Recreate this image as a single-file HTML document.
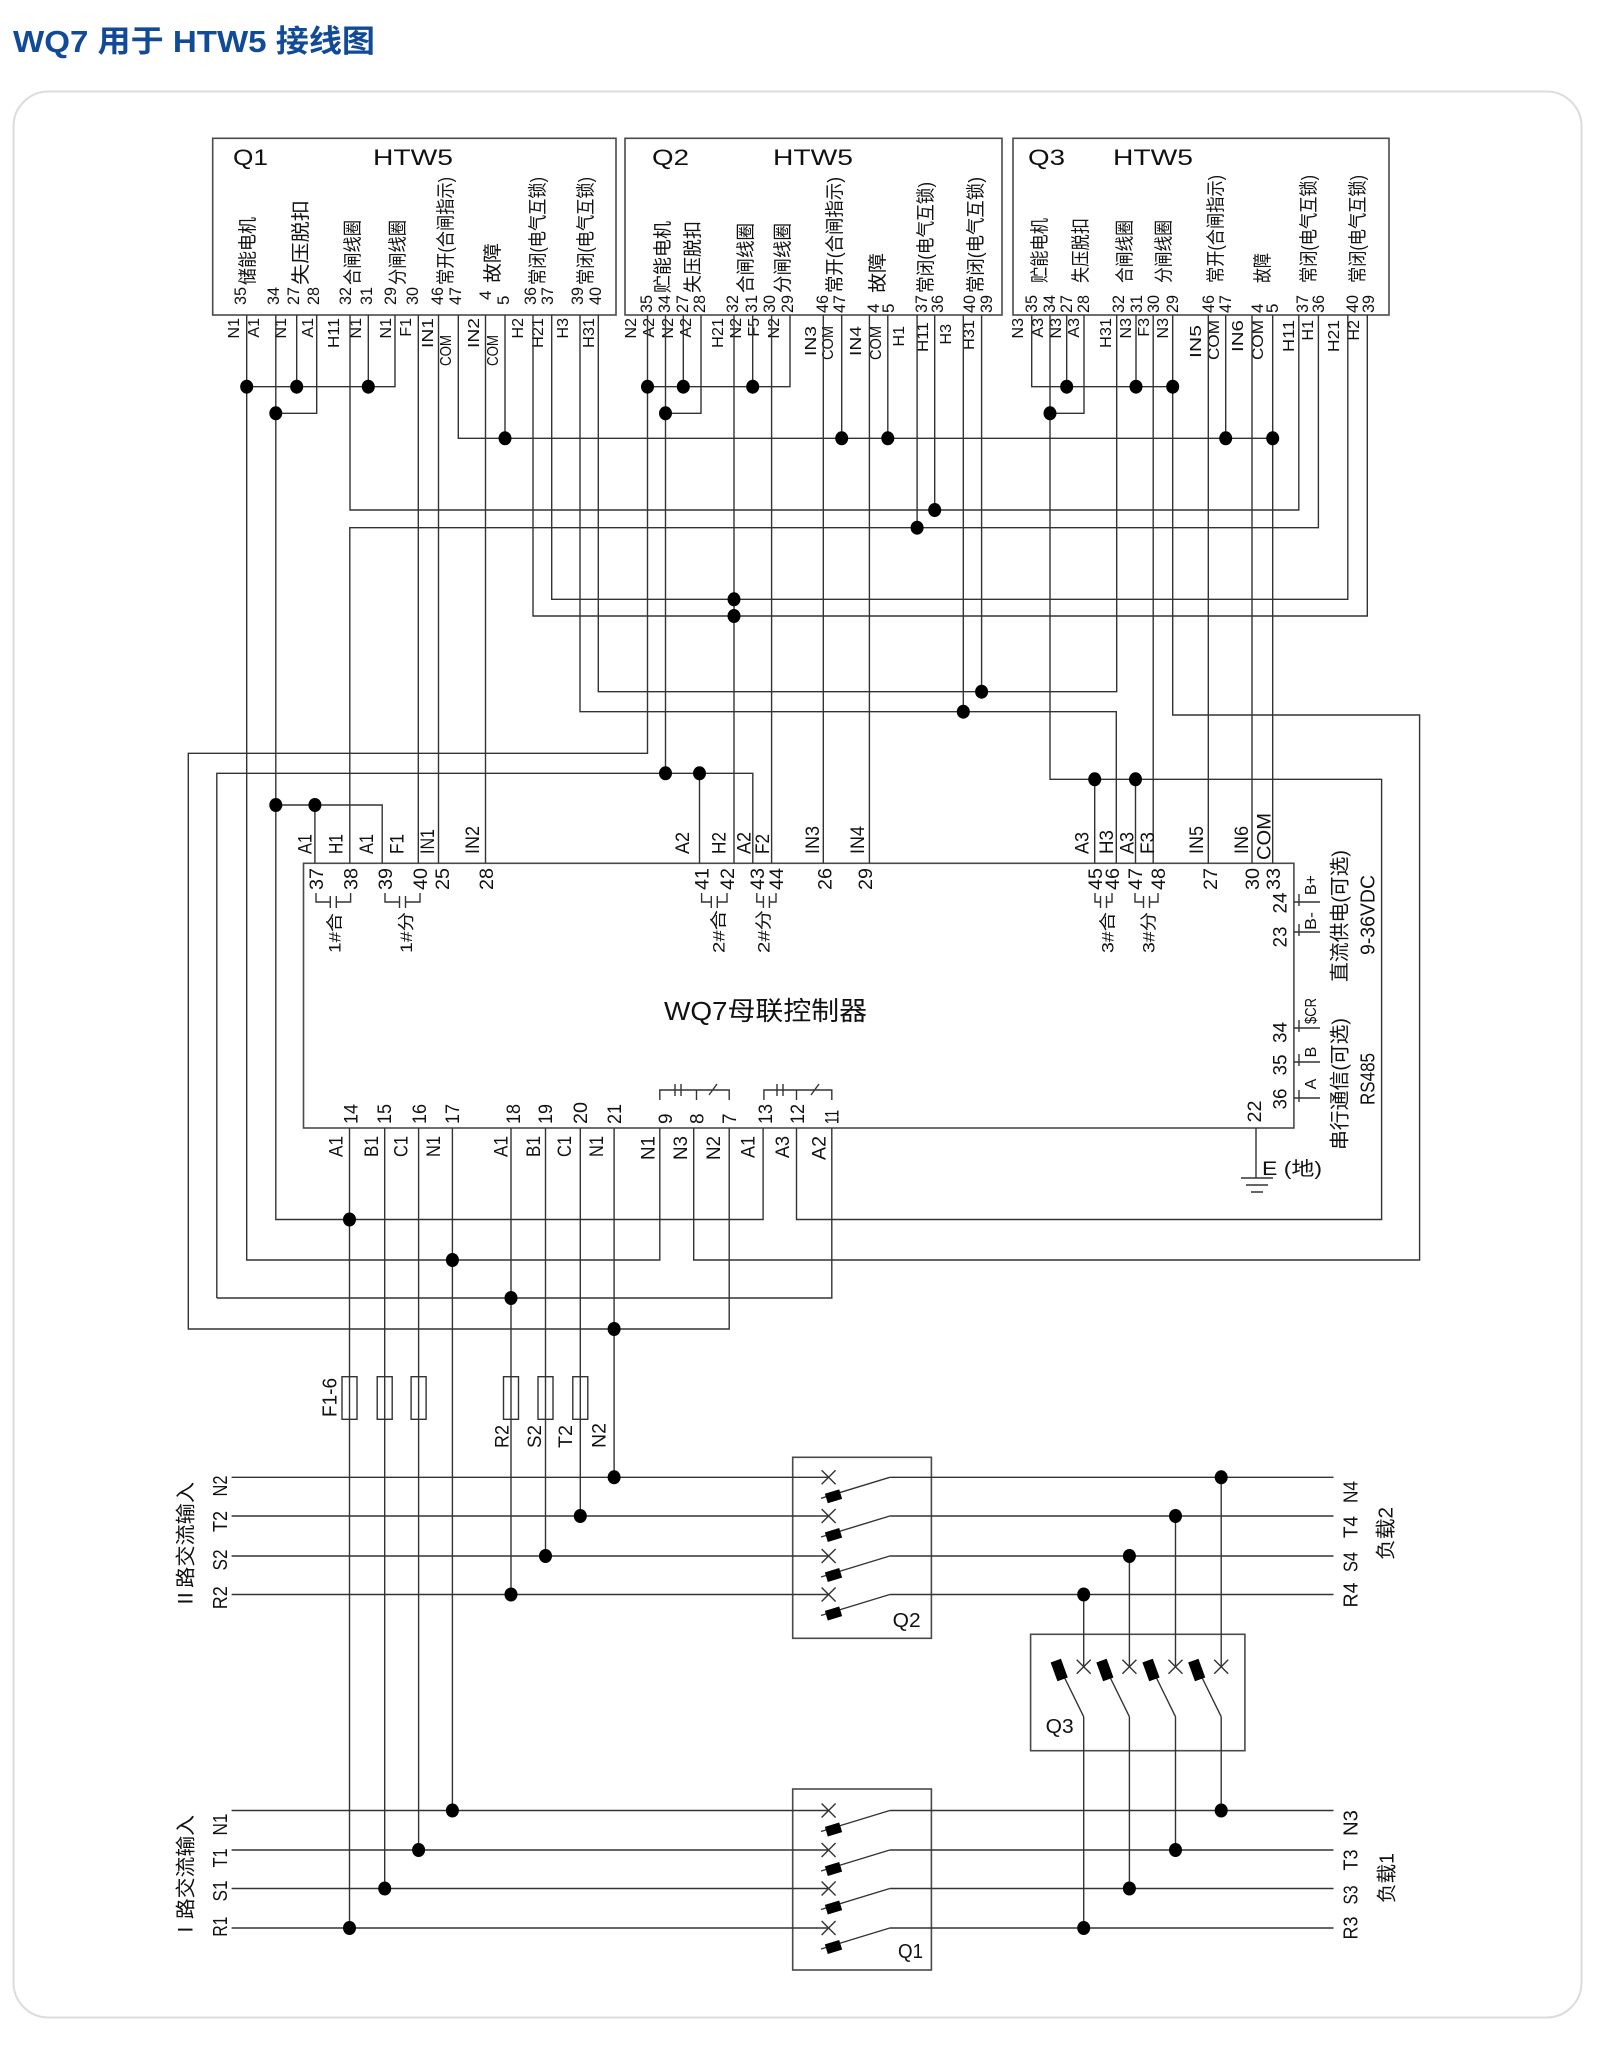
<!DOCTYPE html>
<html><head><meta charset="utf-8"><title>WQ7 用于 HTW5 接线图</title>
<style>
html,body{margin:0;padding:0;background:#fff;}
svg{display:block;}
text{font-family:"Liberation Sans","Noto Sans CJK SC",sans-serif;fill:#111;}
.ln{stroke:#333;stroke-width:1.4;fill:none;}
.bx{stroke:#4a4a4a;stroke-width:1.6;fill:none;}
.dt{fill:#000;}
</style></head><body>
<svg width="1600" height="2060" viewBox="0 0 1600 2060" xmlns="http://www.w3.org/2000/svg">
<rect x="0" y="0" width="1600" height="2060" fill="#fff"/>
<!-- title -->
<text x="13" y="52" font-size="31" font-weight="bold" style="fill:#114a97" textLength="362" lengthAdjust="spacingAndGlyphs">WQ7 用于 HTW5 接线图</text>
<!-- panel -->
<rect x="13.5" y="91.5" width="1568" height="1926" rx="35" ry="35" fill="#fff" stroke="#dcdcdc" stroke-width="2"/>

<!-- boxes -->
<rect class="bx" x="212.7" y="138.3" width="403.3" height="176.7"/>
<rect class="bx" x="625" y="138.3" width="377" height="176.7"/>
<rect class="bx" x="1013" y="138.3" width="376" height="176.7"/>
<rect class="bx" x="303.5" y="863.3" width="990.4" height="264.7"/>
<rect class="bx" x="792.7" y="1457.3" width="138.7" height="181"/>
<rect class="bx" x="1030.6" y="1634.3" width="214.3" height="116.4"/>
<rect class="bx" x="792.7" y="1789" width="138.7" height="181"/>

<!-- box headers -->
<g font-size="22">
<text x="233" y="165" textLength="35" lengthAdjust="spacingAndGlyphs">Q1</text>
<text x="373" y="165" textLength="80" lengthAdjust="spacingAndGlyphs">HTW5</text>
<text x="652" y="165" textLength="37" lengthAdjust="spacingAndGlyphs">Q2</text>
<text x="773" y="165" textLength="80" lengthAdjust="spacingAndGlyphs">HTW5</text>
<text x="1028" y="165" textLength="37" lengthAdjust="spacingAndGlyphs">Q3</text>
<text x="1113" y="165" textLength="80" lengthAdjust="spacingAndGlyphs">HTW5</text>
</g>

<!-- Q1 column texts -->
<g font-size="17">
<text transform="translate(246,305) rotate(-90)" textLength="18" lengthAdjust="spacingAndGlyphs">35</text>
<text transform="translate(279,305) rotate(-90)" textLength="18" lengthAdjust="spacingAndGlyphs">34</text>
<text transform="translate(299,305) rotate(-90)" textLength="18" lengthAdjust="spacingAndGlyphs">27</text>
<text transform="translate(319,305) rotate(-90)" textLength="18" lengthAdjust="spacingAndGlyphs">28</text>
<text transform="translate(351,305) rotate(-90)" textLength="18" lengthAdjust="spacingAndGlyphs">32</text>
<text transform="translate(372,305) rotate(-90)" textLength="18" lengthAdjust="spacingAndGlyphs">31</text>
<text transform="translate(396,305) rotate(-90)" textLength="18" lengthAdjust="spacingAndGlyphs">29</text>
<text transform="translate(418,305) rotate(-90)" textLength="18" lengthAdjust="spacingAndGlyphs">30</text>
<text transform="translate(443,305) rotate(-90)" textLength="18" lengthAdjust="spacingAndGlyphs">46</text>
<text transform="translate(461,305) rotate(-90)" textLength="18" lengthAdjust="spacingAndGlyphs">47</text>
<text transform="translate(491,300) rotate(-90)">4</text>
<text transform="translate(509,305) rotate(-90)">5</text>
<text transform="translate(536,305) rotate(-90)" textLength="18" lengthAdjust="spacingAndGlyphs">36</text>
<text transform="translate(553,305) rotate(-90)" textLength="18" lengthAdjust="spacingAndGlyphs">37</text>
<text transform="translate(583,305) rotate(-90)" textLength="18" lengthAdjust="spacingAndGlyphs">39</text>
<text transform="translate(601,305) rotate(-90)" textLength="18" lengthAdjust="spacingAndGlyphs">40</text>
</g>
<g font-size="19">
<text transform="translate(254,285) rotate(-90)" textLength="68" lengthAdjust="spacingAndGlyphs">储能电机</text>
<text transform="translate(307,285) rotate(-90)" textLength="85" lengthAdjust="spacingAndGlyphs">失压脱扣</text>
<text transform="translate(359,285) rotate(-90)" textLength="65" lengthAdjust="spacingAndGlyphs">合闸线圈</text>
<text transform="translate(404,285) rotate(-90)" textLength="65" lengthAdjust="spacingAndGlyphs">分闸线圈</text>
<text transform="translate(452,285) rotate(-90)" textLength="108" lengthAdjust="spacingAndGlyphs">常开(合闸指示)</text>
<text transform="translate(499,283) rotate(-90)" textLength="40" lengthAdjust="spacingAndGlyphs">故障</text>
<text transform="translate(544,285) rotate(-90)" textLength="108" lengthAdjust="spacingAndGlyphs">常闭(电气互锁)</text>
<text transform="translate(592,285) rotate(-90)" textLength="108" lengthAdjust="spacingAndGlyphs">常闭(电气互锁)</text>
</g>

<!-- Q2 column texts -->
<g font-size="17">
<text transform="translate(652,313) rotate(-90)" textLength="18" lengthAdjust="spacingAndGlyphs">35</text>
<text transform="translate(670,313) rotate(-90)" textLength="18" lengthAdjust="spacingAndGlyphs">34</text>
<text transform="translate(688,313) rotate(-90)" textLength="18" lengthAdjust="spacingAndGlyphs">27</text>
<text transform="translate(705,313) rotate(-90)" textLength="18" lengthAdjust="spacingAndGlyphs">28</text>
<text transform="translate(738,313) rotate(-90)" textLength="18" lengthAdjust="spacingAndGlyphs">32</text>
<text transform="translate(757,313) rotate(-90)" textLength="18" lengthAdjust="spacingAndGlyphs">31</text>
<text transform="translate(775,313) rotate(-90)" textLength="18" lengthAdjust="spacingAndGlyphs">30</text>
<text transform="translate(793,313) rotate(-90)" textLength="18" lengthAdjust="spacingAndGlyphs">29</text>
<text transform="translate(828,313) rotate(-90)" textLength="18" lengthAdjust="spacingAndGlyphs">46</text>
<text transform="translate(845,313) rotate(-90)" textLength="18" lengthAdjust="spacingAndGlyphs">47</text>
<text transform="translate(879,313) rotate(-90)">4</text>
<text transform="translate(894,313) rotate(-90)">5</text>
<text transform="translate(927,313) rotate(-90)" textLength="18" lengthAdjust="spacingAndGlyphs">37</text>
<text transform="translate(943,313) rotate(-90)" textLength="18" lengthAdjust="spacingAndGlyphs">36</text>
<text transform="translate(975,313) rotate(-90)" textLength="18" lengthAdjust="spacingAndGlyphs">40</text>
<text transform="translate(992,313) rotate(-90)" textLength="18" lengthAdjust="spacingAndGlyphs">39</text>
</g>
<g font-size="19">
<text transform="translate(669,293) rotate(-90)" textLength="72" lengthAdjust="spacingAndGlyphs">贮能电机</text>
<text transform="translate(699,293) rotate(-90)" textLength="72" lengthAdjust="spacingAndGlyphs">失压脱扣</text>
<text transform="translate(752,293) rotate(-90)" textLength="70" lengthAdjust="spacingAndGlyphs">合闸线圈</text>
<text transform="translate(789,293) rotate(-90)" textLength="70" lengthAdjust="spacingAndGlyphs">分闸线圈</text>
<text transform="translate(841,293) rotate(-90)" textLength="116" lengthAdjust="spacingAndGlyphs">常开(合闸指示)</text>
<text transform="translate(884,293) rotate(-90)" textLength="40" lengthAdjust="spacingAndGlyphs">故障</text>
<text transform="translate(932,293) rotate(-90)" textLength="111" lengthAdjust="spacingAndGlyphs">常闭(电气互锁)</text>
<text transform="translate(982,293) rotate(-90)" textLength="116" lengthAdjust="spacingAndGlyphs">常闭(电气互锁)</text>
</g>

<!-- Q3 column texts -->
<g font-size="17">
<text transform="translate(1037,313) rotate(-90)" textLength="18" lengthAdjust="spacingAndGlyphs">35</text>
<text transform="translate(1055,313) rotate(-90)" textLength="18" lengthAdjust="spacingAndGlyphs">34</text>
<text transform="translate(1072,313) rotate(-90)" textLength="18" lengthAdjust="spacingAndGlyphs">27</text>
<text transform="translate(1089,313) rotate(-90)" textLength="18" lengthAdjust="spacingAndGlyphs">28</text>
<text transform="translate(1124,313) rotate(-90)" textLength="18" lengthAdjust="spacingAndGlyphs">32</text>
<text transform="translate(1142,313) rotate(-90)" textLength="18" lengthAdjust="spacingAndGlyphs">31</text>
<text transform="translate(1159,313) rotate(-90)" textLength="18" lengthAdjust="spacingAndGlyphs">30</text>
<text transform="translate(1178,313) rotate(-90)" textLength="18" lengthAdjust="spacingAndGlyphs">29</text>
<text transform="translate(1214,313) rotate(-90)" textLength="18" lengthAdjust="spacingAndGlyphs">46</text>
<text transform="translate(1231,313) rotate(-90)" textLength="18" lengthAdjust="spacingAndGlyphs">47</text>
<text transform="translate(1263,313) rotate(-90)">4</text>
<text transform="translate(1278,313) rotate(-90)">5</text>
<text transform="translate(1308,313) rotate(-90)" textLength="18" lengthAdjust="spacingAndGlyphs">37</text>
<text transform="translate(1324,313) rotate(-90)" textLength="18" lengthAdjust="spacingAndGlyphs">36</text>
<text transform="translate(1358,313) rotate(-90)" textLength="18" lengthAdjust="spacingAndGlyphs">40</text>
<text transform="translate(1374,313) rotate(-90)" textLength="18" lengthAdjust="spacingAndGlyphs">39</text>
</g>
<g font-size="19">
<text transform="translate(1046,283) rotate(-90)" textLength="65" lengthAdjust="spacingAndGlyphs">贮能电机</text>
<text transform="translate(1087,283) rotate(-90)" textLength="65" lengthAdjust="spacingAndGlyphs">失压脱扣</text>
<text transform="translate(1131,283) rotate(-90)" textLength="63" lengthAdjust="spacingAndGlyphs">合闸线圈</text>
<text transform="translate(1170,283) rotate(-90)" textLength="63" lengthAdjust="spacingAndGlyphs">分闸线圈</text>
<text transform="translate(1222,283) rotate(-90)" textLength="108" lengthAdjust="spacingAndGlyphs">常开(合闸指示)</text>
<text transform="translate(1269,283) rotate(-90)" textLength="30" lengthAdjust="spacingAndGlyphs">故障</text>
<text transform="translate(1315,283) rotate(-90)" textLength="108" lengthAdjust="spacingAndGlyphs">常闭(电气互锁)</text>
<text transform="translate(1364,283) rotate(-90)" textLength="108" lengthAdjust="spacingAndGlyphs">常闭(电气互锁)</text>
</g>

<!-- wire labels below Q boxes -->
<g font-size="16" text-anchor="end">
<text transform="translate(239,318) rotate(-90)">N1</text>
<text transform="translate(259,318) rotate(-90)">A1</text>
<text transform="translate(286,318) rotate(-90)">N1</text>
<text transform="translate(313,318) rotate(-90)">A1</text>
<text transform="translate(339,318) rotate(-90)" textLength="30" lengthAdjust="spacingAndGlyphs">H11</text>
<text transform="translate(361,318) rotate(-90)">N1</text>
<text transform="translate(391,318) rotate(-90)">N1</text>
<text transform="translate(411,318) rotate(-90)">F1</text>
<text transform="translate(433,318) rotate(-90)" textLength="30" lengthAdjust="spacingAndGlyphs">IN1</text>
<text transform="translate(451,335) rotate(-90)" textLength="31" lengthAdjust="spacingAndGlyphs">COM</text>
<text transform="translate(479,318) rotate(-90)" textLength="30" lengthAdjust="spacingAndGlyphs">IN2</text>
<text transform="translate(498,335) rotate(-90)" textLength="31" lengthAdjust="spacingAndGlyphs">COM</text>
<text transform="translate(523,318) rotate(-90)">H2</text>
<text transform="translate(543,318) rotate(-90)" textLength="30" lengthAdjust="spacingAndGlyphs">H21</text>
<text transform="translate(568,318) rotate(-90)">H3</text>
<text transform="translate(594,318) rotate(-90)" textLength="30" lengthAdjust="spacingAndGlyphs">H31</text>

<text transform="translate(636,318) rotate(-90)">N2</text>
<text transform="translate(654,318) rotate(-90)">A2</text>
<text transform="translate(673,318) rotate(-90)">N2</text>
<text transform="translate(691,318) rotate(-90)">A2</text>
<text transform="translate(723,318) rotate(-90)" textLength="30" lengthAdjust="spacingAndGlyphs">H21</text>
<text transform="translate(741,318) rotate(-90)">N2</text>
<text transform="translate(759,318) rotate(-90)">F5</text>
<text transform="translate(779,318) rotate(-90)">N2</text>
<text transform="translate(816,326) rotate(-90)" textLength="30" lengthAdjust="spacingAndGlyphs">IN3</text>
<text transform="translate(833,326) rotate(-90)" textLength="34" lengthAdjust="spacingAndGlyphs">COM</text>
<text transform="translate(861,326) rotate(-90)" textLength="30" lengthAdjust="spacingAndGlyphs">IN4</text>
<text transform="translate(881,326) rotate(-90)" textLength="34" lengthAdjust="spacingAndGlyphs">COM</text>
<text transform="translate(904,326) rotate(-90)">H1</text>
<text transform="translate(928,322) rotate(-90)" textLength="30" lengthAdjust="spacingAndGlyphs">H11</text>
<text transform="translate(951,324) rotate(-90)">H3</text>
<text transform="translate(974,320) rotate(-90)" textLength="30" lengthAdjust="spacingAndGlyphs">H31</text>

<text transform="translate(1023,318) rotate(-90)">N3</text>
<text transform="translate(1043,318) rotate(-90)">A3</text>
<text transform="translate(1061,318) rotate(-90)">N3</text>
<text transform="translate(1079,318) rotate(-90)">A3</text>
<text transform="translate(1111,318) rotate(-90)" textLength="30" lengthAdjust="spacingAndGlyphs">H31</text>
<text transform="translate(1131,318) rotate(-90)">N3</text>
<text transform="translate(1149,318) rotate(-90)">F3</text>
<text transform="translate(1168,318) rotate(-90)">N3</text>
<text transform="translate(1201,325) rotate(-90)" textLength="33" lengthAdjust="spacingAndGlyphs">IN5</text>
<text transform="translate(1219,320) rotate(-90)" textLength="40" lengthAdjust="spacingAndGlyphs">COM</text>
<text transform="translate(1243,320) rotate(-90)" textLength="32" lengthAdjust="spacingAndGlyphs">IN6</text>
<text transform="translate(1263,320) rotate(-90)" textLength="40" lengthAdjust="spacingAndGlyphs">COM</text>
<text transform="translate(1294,320) rotate(-90)" textLength="32" lengthAdjust="spacingAndGlyphs">H11</text>
<text transform="translate(1313,320) rotate(-90)">H1</text>
<text transform="translate(1339,320) rotate(-90)" textLength="32" lengthAdjust="spacingAndGlyphs">H21</text>
<text transform="translate(1359,320) rotate(-90)">H2</text>
</g>

<!-- wiring -->
<g class="ln">
<!-- Q1 -->
<path d="M246.7 315 V1260 H659.8 V1128"/>
<path d="M275.8 315 V1219.5 H763.1 V1128"/>
<path d="M296.7 315 V386.7"/>
<path d="M316.7 315 V413.3 H275.8"/>
<path d="M350 315 V510 H1298.8 V315"/>
<path d="M368.3 315 V386.7"/>
<path d="M395 315 V386.7 H246.7"/>
<path d="M418.3 315 V863.3"/>
<path d="M438.5 315 V863.3"/>
<path d="M458.3 315 V438.3 H1272.7"/>
<path d="M485.5 315 V863.3"/>
<path d="M505 315 V438.3"/>
<path d="M533 315 V616 H1367.3 V315"/>
<path d="M551.7 315 V599.3 H1347.8 V315"/>
<path d="M580 315 V711.7 H1116.3 V863.3"/>
<path d="M598.3 315 V691.7 H1116.7 V315"/>
<!-- Q2 -->
<path d="M647.5 315 V753.3 H188.3 V1329 H729.2 V1128"/>
<path d="M665.5 315 V773.3"/>
<path d="M683.3 315 V386.7"/>
<path d="M701 315 V413.3 H665.5"/>
<path d="M734 315 V863.3"/>
<path d="M752.7 315 V386.7"/>
<path d="M771.6 315 V863.3"/>
<path d="M790 315 V386.7 H647.5"/>
<path d="M823.3 315 V863.3"/>
<path d="M841.7 315 V438.3"/>
<path d="M869.4 315 V863.3"/>
<path d="M887.8 315 V438.3"/>
<path d="M917.1 315 V527.7"/>
<path d="M934.7 315 V510"/>
<path d="M963.3 315 V711.7"/>
<path d="M981.6 315 V691.7"/>
<!-- Q3 -->
<path d="M1031.7 315 V386.7 H1172.7"/>
<path d="M1050 315 V779.3 H1381.6 V1219.5 H796.5 V1128"/>
<path d="M1066.7 315 V386.7"/>
<path d="M1084 315 V413.3 H1050"/>
<path d="M1136 315 V386.7"/>
<path d="M1153.2 315 V863.3"/>
<path d="M1172.7 315 V715 H1419.6 V1260 H693.7 V1128"/>
<path d="M1208.3 315 V863.3"/>
<path d="M1225.7 315 V438.3"/>
<path d="M1252 315 V863.3"/>
<path d="M1272.7 315 V863.3"/>
<path d="M1318.4 315 V527.7 H349.8 V863.3"/>
<!-- other middle -->
<path d="M216.8 1298 V773.3 H752.8 V863.3"/>
<path d="M216.8 1298 H831.8 V1128"/>
<path d="M699.5 773.3 V863.3"/>
<path d="M1094.7 779.3 V863.3"/>
<path d="M1135.5 779.3 V863.3"/>
<path d="M275.8 805 H382.2 V863.3"/>
<path d="M314.9 805 V863.3"/>
<!-- bottom verticals -->
<path d="M349.5 1128 V1928"/>
<path d="M384.7 1128 V1888.5"/>
<path d="M418.6 1128 V1850"/>
<path d="M452.4 1128 V1810.5"/>
<path d="M511 1128 V1594.5"/>
<path d="M545.5 1128 V1556"/>
<path d="M580.3 1128 V1516"/>
<path d="M614.1 1128 V1477.3"/>
<!-- input lines II -->
<path d="M231.6 1477.3 H828.6 M889.8 1477.3 H1333.5"/>
<path d="M231.6 1516 H828.6 M889.8 1516 H1333.5"/>
<path d="M231.6 1556 H828.6 M889.8 1556 H1333.5"/>
<path d="M231.6 1594.5 H828.6 M889.8 1594.5 H1333.5"/>
<!-- input lines I -->
<path d="M231.6 1810.5 H828.6 M889.8 1810.5 H1333.5"/>
<path d="M231.6 1850 H828.6 M889.8 1850 H1333.5"/>
<path d="M231.6 1888.5 H828.6 M889.8 1888.5 H1333.5"/>
<path d="M231.6 1928 H828.6 M889.8 1928 H1333.5"/>
<!-- Q3 verticals -->
<path d="M1083.7 1594.5 V1666.7 M1083.7 1716.7 V1928 M1064.7 1678 L1083.7 1716.7"/>
<path d="M1129.4 1556 V1666.7 M1129.4 1716.7 V1888.5 M1110.4 1678 L1129.4 1716.7"/>
<path d="M1175.5 1516 V1666.7 M1175.5 1716.7 V1850 M1156.5 1678 L1175.5 1716.7"/>
<path d="M1221.2 1477.3 V1666.7 M1221.2 1716.7 V1810.5 M1202.2 1678 L1221.2 1716.7"/>
<!-- Q3 X marks -->
<path d="M1076.7 1659.7 L1090.7 1673.7 M1076.7 1673.7 L1090.7 1659.7"/>
<path d="M1122.4 1659.7 L1136.4 1673.7 M1122.4 1673.7 L1136.4 1659.7"/>
<path d="M1168.5 1659.7 L1182.5 1673.7 M1168.5 1673.7 L1182.5 1659.7"/>
<path d="M1214.2 1659.7 L1228.2 1673.7 M1214.2 1673.7 L1228.2 1659.7"/>
<!-- ground -->
<path d="M1256 1128 V1178 M1241 1178 H1273 M1246 1185 H1268 M1251 1192 H1263"/>
<!-- right side small terminal lines -->
<path d="M1294 902 H1320 M1299 894 V906"/>
<path d="M1294 932 H1320 M1299 924 V936"/>
<path d="M1294 1028 H1320 M1299 1020 V1032"/>
<path d="M1294 1062 H1320 M1299 1054 V1066"/>
<path d="M1294 1098 H1320 M1299 1090 V1102"/>
<!-- top contact symbols -->
<path d="M316 893 V902 H330.3 M336.3 902 H350.6 V893 M330.3 896 V908 M336.3 896 V908"/>
<path d="M385 893 V902 H399.5 M405.5 902 H420 V893 M399.5 896 V908 M405.5 896 V908"/>
<path d="M701.6 893 V902 H711.3 M717.3 902 H727 V893 M711.3 896 V908 M717.3 896 V908"/>
<path d="M756.8 893 V902 H763.4 M769.4 902 H776 V893 M763.4 896 V908 M769.4 896 V908"/>
<path d="M1095 893 V902 H1100.5 M1106.5 902 H1112 V893 M1100.5 896 V908 M1106.5 896 V908"/>
<path d="M1135 893 V902 H1143.5 M1149.5 902 H1158 V893 M1143.5 896 V908 M1149.5 896 V908"/>
<!-- bottom contact brackets -->
<path d="M659.8 1100 V1090 H729.2 V1100 M696.5 1090 V1100 M675 1084 V1096 M681 1084 V1096 M709 1095 L717 1084"/>
<path d="M763.9 1100 V1090 H831.8 V1100 M796.5 1090 V1100 M777 1084 V1096 M783 1084 V1096 M811 1095 L819 1084"/>
</g>

<!-- fuses -->
<g class="ln">
<rect x="342" y="1376.7" width="15" height="42.6"/>
<rect x="377.2" y="1376.7" width="15" height="42.6"/>
<rect x="411.1" y="1376.7" width="15" height="42.6"/>
<rect x="503.5" y="1376.7" width="15" height="42.6"/>
<rect x="538" y="1376.7" width="15" height="42.6"/>
<rect x="572.8" y="1376.7" width="15" height="42.6"/>
</g>

<!-- Q1/Q2 switch contacts -->
<g class="ln">
<path d="M821.6 1470.3 L835.6 1484.3 M821.6 1484.3 L835.6 1470.3 M821 1498.3 L889.8 1477.3"/>
<path d="M821.6 1509 L835.6 1523 M821.6 1523 L835.6 1509 M821 1537 L889.8 1516"/>
<path d="M821.6 1549 L835.6 1563 M821.6 1563 L835.6 1549 M821 1577 L889.8 1556"/>
<path d="M821.6 1587.5 L835.6 1601.5 M821.6 1601.5 L835.6 1587.5 M821 1615.5 L889.8 1594.5"/>
<path d="M821.6 1803.5 L835.6 1817.5 M821.6 1817.5 L835.6 1803.5 M821 1831.5 L889.8 1810.5"/>
<path d="M821.6 1843 L835.6 1857 M821.6 1857 L835.6 1843 M821 1871 L889.8 1850"/>
<path d="M821.6 1881.5 L835.6 1895.5 M821.6 1895.5 L835.6 1881.5 M821 1909.5 L889.8 1888.5"/>
<path d="M821.6 1921 L835.6 1935 M821.6 1935 L835.6 1921 M821 1949 L889.8 1928"/>
</g>
<g fill="#000">
<rect x="826" y="1491.3" width="15" height="10" transform="rotate(-17 833.5 1496.3)"/>
<rect x="826" y="1530" width="15" height="10" transform="rotate(-17 833.5 1535)"/>
<rect x="826" y="1570" width="15" height="10" transform="rotate(-17 833.5 1575)"/>
<rect x="826" y="1608.5" width="15" height="10" transform="rotate(-17 833.5 1613.5)"/>
<rect x="826" y="1824.5" width="15" height="10" transform="rotate(-17 833.5 1829.5)"/>
<rect x="826" y="1864" width="15" height="10" transform="rotate(-17 833.5 1869)"/>
<rect x="826" y="1902.5" width="15" height="10" transform="rotate(-17 833.5 1907.5)"/>
<rect x="826" y="1942" width="15" height="10" transform="rotate(-17 833.5 1947)"/>
<!-- Q3 blocks -->
<rect x="1053.7" y="1660" width="11" height="20" transform="rotate(-20 1059.2 1670)"/>
<rect x="1099.4" y="1660" width="11" height="20" transform="rotate(-20 1104.9 1670)"/>
<rect x="1145.5" y="1660" width="11" height="20" transform="rotate(-20 1151 1670)"/>
<rect x="1191.2" y="1660" width="11" height="20" transform="rotate(-20 1196.7 1670)"/>
</g>

<!-- dots -->
<g class="dt">
<ellipse cx="246.7" cy="386.7" rx="6.5" ry="7"/>
<ellipse cx="296.7" cy="386.7" rx="6.5" ry="7"/>
<ellipse cx="368.3" cy="386.7" rx="6.5" ry="7"/>
<ellipse cx="275.8" cy="413.3" rx="6.5" ry="7"/>
<ellipse cx="505" cy="438.3" rx="6.5" ry="7"/>
<ellipse cx="647.5" cy="386.7" rx="6.5" ry="7"/>
<ellipse cx="683.3" cy="386.7" rx="6.5" ry="7"/>
<ellipse cx="752.7" cy="386.7" rx="6.5" ry="7"/>
<ellipse cx="665.5" cy="413.3" rx="6.5" ry="7"/>
<ellipse cx="841.7" cy="438.3" rx="6.5" ry="7"/>
<ellipse cx="887.8" cy="438.3" rx="6.5" ry="7"/>
<ellipse cx="934.7" cy="510" rx="6.5" ry="7"/>
<ellipse cx="917.1" cy="527.7" rx="6.5" ry="7"/>
<ellipse cx="734" cy="599.3" rx="6.5" ry="7"/>
<ellipse cx="734" cy="616" rx="6.5" ry="7"/>
<ellipse cx="981.6" cy="691.7" rx="6.5" ry="7"/>
<ellipse cx="963.3" cy="711.7" rx="6.5" ry="7"/>
<ellipse cx="1066.7" cy="386.7" rx="6.5" ry="7"/>
<ellipse cx="1136" cy="386.7" rx="6.5" ry="7"/>
<ellipse cx="1172.7" cy="386.7" rx="6.5" ry="7"/>
<ellipse cx="1050" cy="413.3" rx="6.5" ry="7"/>
<ellipse cx="1225.7" cy="438.3" rx="6.5" ry="7"/>
<ellipse cx="1272.7" cy="438.3" rx="6.5" ry="7"/>
<ellipse cx="275.8" cy="805" rx="6.5" ry="7"/>
<ellipse cx="314.9" cy="805" rx="6.5" ry="7"/>
<ellipse cx="665.5" cy="773.3" rx="6.5" ry="7"/>
<ellipse cx="699.5" cy="773.3" rx="6.5" ry="7"/>
<ellipse cx="1094.7" cy="779.3" rx="6.5" ry="7"/>
<ellipse cx="1135.5" cy="779.3" rx="6.5" ry="7"/>
<ellipse cx="349.5" cy="1219.5" rx="6.5" ry="7"/>
<ellipse cx="452.4" cy="1260" rx="6.5" ry="7"/>
<ellipse cx="511" cy="1298" rx="6.5" ry="7"/>
<ellipse cx="614.1" cy="1329" rx="6.5" ry="7"/>
<ellipse cx="614.1" cy="1477.3" rx="6.5" ry="7"/>
<ellipse cx="580.3" cy="1516" rx="6.5" ry="7"/>
<ellipse cx="545.5" cy="1556" rx="6.5" ry="7"/>
<ellipse cx="511" cy="1594.5" rx="6.5" ry="7"/>
<ellipse cx="452.4" cy="1810.5" rx="6.5" ry="7"/>
<ellipse cx="418.6" cy="1850" rx="6.5" ry="7"/>
<ellipse cx="384.7" cy="1888.5" rx="6.5" ry="7"/>
<ellipse cx="349.5" cy="1928" rx="6.5" ry="7"/>
<ellipse cx="1221.2" cy="1477.3" rx="6.5" ry="7"/>
<ellipse cx="1175.5" cy="1516" rx="6.5" ry="7"/>
<ellipse cx="1129.4" cy="1556" rx="6.5" ry="7"/>
<ellipse cx="1083.7" cy="1594.5" rx="6.5" ry="7"/>
<ellipse cx="1221.2" cy="1810.5" rx="6.5" ry="7"/>
<ellipse cx="1175.5" cy="1850" rx="6.5" ry="7"/>
<ellipse cx="1129.4" cy="1888.5" rx="6.5" ry="7"/>
<ellipse cx="1083.7" cy="1928" rx="6.5" ry="7"/>
</g>

<!-- controller top labels -->
<g font-size="19">
<text transform="translate(311.7,854) rotate(-90)" textLength="20" lengthAdjust="spacingAndGlyphs">A1</text>
<text transform="translate(342.3,854) rotate(-90)" textLength="20" lengthAdjust="spacingAndGlyphs">H1</text>
<text transform="translate(373,854) rotate(-90)" textLength="20" lengthAdjust="spacingAndGlyphs">A1</text>
<text transform="translate(403.5,854) rotate(-90)" textLength="20" lengthAdjust="spacingAndGlyphs">F1</text>
<text transform="translate(434,854) rotate(-90)" textLength="25" lengthAdjust="spacingAndGlyphs">IN1</text>
<text transform="translate(479,854) rotate(-90)" textLength="28" lengthAdjust="spacingAndGlyphs">IN2</text>
<text transform="translate(689,854) rotate(-90)" textLength="22" lengthAdjust="spacingAndGlyphs">A2</text>
<text transform="translate(725.6,854) rotate(-90)" textLength="22" lengthAdjust="spacingAndGlyphs">H2</text>
<text transform="translate(750.5,854) rotate(-90)" textLength="22" lengthAdjust="spacingAndGlyphs">A2</text>
<text transform="translate(768.8,854) rotate(-90)" textLength="20" lengthAdjust="spacingAndGlyphs">F2</text>
<text transform="translate(819,854) rotate(-90)" textLength="28" lengthAdjust="spacingAndGlyphs">IN3</text>
<text transform="translate(864,854) rotate(-90)" textLength="28" lengthAdjust="spacingAndGlyphs">IN4</text>
<text transform="translate(1088.6,854) rotate(-90)" textLength="22" lengthAdjust="spacingAndGlyphs">A3</text>
<text transform="translate(1113,854) rotate(-90)" textLength="24" lengthAdjust="spacingAndGlyphs">H3</text>
<text transform="translate(1133.5,854) rotate(-90)" textLength="22" lengthAdjust="spacingAndGlyphs">A3</text>
<text transform="translate(1154,854) rotate(-90)" textLength="22" lengthAdjust="spacingAndGlyphs">F3</text>
<text transform="translate(1203,854) rotate(-90)" textLength="28" lengthAdjust="spacingAndGlyphs">IN5</text>
<text transform="translate(1247.8,854) rotate(-90)" textLength="28" lengthAdjust="spacingAndGlyphs">IN6</text>
<text transform="translate(1270.3,860) rotate(-90)" textLength="47" lengthAdjust="spacingAndGlyphs">COM</text>
</g>
<!-- controller top pin numbers -->
<g font-size="19" text-anchor="end">
<text transform="translate(323,868) rotate(-90)" textLength="22" lengthAdjust="spacingAndGlyphs">37</text>
<text transform="translate(357.6,868) rotate(-90)" textLength="22" lengthAdjust="spacingAndGlyphs">38</text>
<text transform="translate(392,868) rotate(-90)" textLength="22" lengthAdjust="spacingAndGlyphs">39</text>
<text transform="translate(427,868) rotate(-90)" textLength="22" lengthAdjust="spacingAndGlyphs">40</text>
<text transform="translate(449,868) rotate(-90)" textLength="22" lengthAdjust="spacingAndGlyphs">25</text>
<text transform="translate(493,868) rotate(-90)" textLength="22" lengthAdjust="spacingAndGlyphs">28</text>
<text transform="translate(708.6,868) rotate(-90)" textLength="22" lengthAdjust="spacingAndGlyphs">41</text>
<text transform="translate(734,868) rotate(-90)" textLength="22" lengthAdjust="spacingAndGlyphs">42</text>
<text transform="translate(763.8,868) rotate(-90)" textLength="22" lengthAdjust="spacingAndGlyphs">43</text>
<text transform="translate(783,868) rotate(-90)" textLength="22" lengthAdjust="spacingAndGlyphs">44</text>
<text transform="translate(831.5,868) rotate(-90)" textLength="22" lengthAdjust="spacingAndGlyphs">26</text>
<text transform="translate(872,868) rotate(-90)" textLength="22" lengthAdjust="spacingAndGlyphs">29</text>
<text transform="translate(1102,868) rotate(-90)" textLength="22" lengthAdjust="spacingAndGlyphs">45</text>
<text transform="translate(1119,868) rotate(-90)" textLength="22" lengthAdjust="spacingAndGlyphs">46</text>
<text transform="translate(1142,868) rotate(-90)" textLength="22" lengthAdjust="spacingAndGlyphs">47</text>
<text transform="translate(1165,868) rotate(-90)" textLength="22" lengthAdjust="spacingAndGlyphs">48</text>
<text transform="translate(1217,868) rotate(-90)" textLength="22" lengthAdjust="spacingAndGlyphs">27</text>
<text transform="translate(1259,868) rotate(-90)" textLength="22" lengthAdjust="spacingAndGlyphs">30</text>
<text transform="translate(1280,868) rotate(-90)" textLength="22" lengthAdjust="spacingAndGlyphs">33</text>
</g>
<!-- 1#合 etc -->
<g font-size="17">
<text transform="translate(340.3,953) rotate(-90)" textLength="40" lengthAdjust="spacingAndGlyphs">1#合</text>
<text transform="translate(412,953) rotate(-90)" textLength="41" lengthAdjust="spacingAndGlyphs">1#分</text>
<text transform="translate(724.3,953) rotate(-90)" textLength="43" lengthAdjust="spacingAndGlyphs">2#合</text>
<text transform="translate(769.3,953) rotate(-90)" textLength="43" lengthAdjust="spacingAndGlyphs">2#分</text>
<text transform="translate(1113.3,953) rotate(-90)" textLength="41" lengthAdjust="spacingAndGlyphs">3#合</text>
<text transform="translate(1154.3,953) rotate(-90)" textLength="41" lengthAdjust="spacingAndGlyphs">3#分</text>
</g>
<!-- controller title -->
<text x="664" y="1020" font-size="26" style="fill:#111" textLength="203" lengthAdjust="spacingAndGlyphs">WQ7母联控制器</text>

<!-- right side -->
<g font-size="19" text-anchor="middle">
<text transform="translate(1286.6,903) rotate(-90)" textLength="21" lengthAdjust="spacingAndGlyphs">24</text>
<text transform="translate(1286.6,937) rotate(-90)" textLength="21" lengthAdjust="spacingAndGlyphs">23</text>
<text transform="translate(1286.6,1032.5) rotate(-90)" textLength="21" lengthAdjust="spacingAndGlyphs">34</text>
<text transform="translate(1286.6,1065) rotate(-90)" textLength="21" lengthAdjust="spacingAndGlyphs">35</text>
<text transform="translate(1286.6,1099) rotate(-90)" textLength="21" lengthAdjust="spacingAndGlyphs">36</text>
<text transform="translate(1261,1111.5) rotate(-90)" textLength="22" lengthAdjust="spacingAndGlyphs">22</text>
</g>
<g font-size="16" text-anchor="middle">
<text transform="translate(1316,885) rotate(-90)" textLength="20" lengthAdjust="spacingAndGlyphs">B+</text>
<text transform="translate(1316,921) rotate(-90)" textLength="18" lengthAdjust="spacingAndGlyphs">B-</text>
<text transform="translate(1316,1011) rotate(-90)" textLength="26" lengthAdjust="spacingAndGlyphs">$CR</text>
<text transform="translate(1316,1052) rotate(-90)">B</text>
<text transform="translate(1316,1084) rotate(-90)">A</text>
</g>
<g font-size="20" text-anchor="middle">
<text transform="translate(1346.4,916) rotate(-90)" textLength="132" lengthAdjust="spacingAndGlyphs">直流供电(可选)</text>
<text transform="translate(1374.7,915) rotate(-90)" textLength="80" lengthAdjust="spacingAndGlyphs">9-36VDC</text>
<text transform="translate(1346.4,1084) rotate(-90)" textLength="132" lengthAdjust="spacingAndGlyphs">串行通信(可选)</text>
<text transform="translate(1374.7,1079) rotate(-90)" textLength="52" lengthAdjust="spacingAndGlyphs">RS485</text>
</g>
<text x="1262" y="1175" font-size="19" textLength="60" lengthAdjust="spacingAndGlyphs">E (地)</text>

<!-- controller bottom pin numbers -->
<g font-size="19">
<text transform="translate(357.6,1124) rotate(-90)" textLength="20" lengthAdjust="spacingAndGlyphs">14</text>
<text transform="translate(391,1124) rotate(-90)" textLength="20" lengthAdjust="spacingAndGlyphs">15</text>
<text transform="translate(426,1124) rotate(-90)" textLength="20" lengthAdjust="spacingAndGlyphs">16</text>
<text transform="translate(459,1124) rotate(-90)" textLength="20" lengthAdjust="spacingAndGlyphs">17</text>
<text transform="translate(520,1124) rotate(-90)" textLength="20" lengthAdjust="spacingAndGlyphs">18</text>
<text transform="translate(552,1124) rotate(-90)" textLength="20" lengthAdjust="spacingAndGlyphs">19</text>
<text transform="translate(587,1124) rotate(-90)" textLength="22" lengthAdjust="spacingAndGlyphs">20</text>
<text transform="translate(621,1124) rotate(-90)" textLength="20" lengthAdjust="spacingAndGlyphs">21</text>
<text transform="translate(672,1124) rotate(-90)">9</text>
<text transform="translate(703.5,1124) rotate(-90)">8</text>
<text transform="translate(736,1124) rotate(-90)">7</text>
<text transform="translate(772,1124) rotate(-90)" textLength="20" lengthAdjust="spacingAndGlyphs">13</text>
<text transform="translate(804,1124) rotate(-90)" textLength="20" lengthAdjust="spacingAndGlyphs">12</text>
<text transform="translate(838.7,1124) rotate(-90)" textLength="14" lengthAdjust="spacingAndGlyphs">11</text>
</g>
<!-- controller bottom labels -->
<g font-size="19" text-anchor="end">
<text transform="translate(342.5,1136) rotate(-90)" textLength="21" lengthAdjust="spacingAndGlyphs">A1</text>
<text transform="translate(377.8,1136) rotate(-90)" textLength="21" lengthAdjust="spacingAndGlyphs">B1</text>
<text transform="translate(407.6,1136) rotate(-90)" textLength="21" lengthAdjust="spacingAndGlyphs">C1</text>
<text transform="translate(440,1136) rotate(-90)" textLength="21" lengthAdjust="spacingAndGlyphs">N1</text>
<text transform="translate(507.6,1136) rotate(-90)" textLength="21" lengthAdjust="spacingAndGlyphs">A1</text>
<text transform="translate(540,1136) rotate(-90)" textLength="21" lengthAdjust="spacingAndGlyphs">B1</text>
<text transform="translate(571,1136) rotate(-90)" textLength="21" lengthAdjust="spacingAndGlyphs">C1</text>
<text transform="translate(603,1136) rotate(-90)" textLength="21" lengthAdjust="spacingAndGlyphs">N1</text>
<text transform="translate(654.6,1136) rotate(-90)" textLength="24" lengthAdjust="spacingAndGlyphs">N1</text>
<text transform="translate(687,1136) rotate(-90)" textLength="24" lengthAdjust="spacingAndGlyphs">N3</text>
<text transform="translate(720,1136) rotate(-90)" textLength="24" lengthAdjust="spacingAndGlyphs">N2</text>
<text transform="translate(754.4,1136) rotate(-90)" textLength="22" lengthAdjust="spacingAndGlyphs">A1</text>
<text transform="translate(789.2,1136) rotate(-90)" textLength="22" lengthAdjust="spacingAndGlyphs">A3</text>
<text transform="translate(825.4,1136) rotate(-90)" textLength="24" lengthAdjust="spacingAndGlyphs">A2</text>
</g>

<!-- fuse labels -->
<g font-size="19" text-anchor="middle">
<text transform="translate(336.4,1397.5) rotate(-90)" font-size="20" textLength="39" lengthAdjust="spacingAndGlyphs">F1-6</text>
<text transform="translate(508.6,1436.5) rotate(-90)" textLength="23" lengthAdjust="spacingAndGlyphs">R2</text>
<text transform="translate(541,1436.5) rotate(-90)" textLength="23" lengthAdjust="spacingAndGlyphs">S2</text>
<text transform="translate(572,1436.5) rotate(-90)" textLength="23" lengthAdjust="spacingAndGlyphs">T2</text>
<text transform="translate(605.6,1435.5) rotate(-90)" textLength="25" lengthAdjust="spacingAndGlyphs">N2</text>
</g>

<!-- input labels -->
<g font-size="20" text-anchor="middle">
<text transform="translate(226.8,1486) rotate(-90)" textLength="21" lengthAdjust="spacingAndGlyphs">N2</text>
<text transform="translate(226.8,1521.5) rotate(-90)" textLength="21" lengthAdjust="spacingAndGlyphs">T2</text>
<text transform="translate(226.8,1560) rotate(-90)" textLength="21" lengthAdjust="spacingAndGlyphs">S2</text>
<text transform="translate(226.8,1597.7) rotate(-90)" textLength="23" lengthAdjust="spacingAndGlyphs">R2</text>
<text transform="translate(226.8,1824.5) rotate(-90)" textLength="22" lengthAdjust="spacingAndGlyphs">N1</text>
<text transform="translate(226.8,1858) rotate(-90)" textLength="19" lengthAdjust="spacingAndGlyphs">T1</text>
<text transform="translate(226.8,1891) rotate(-90)" textLength="21" lengthAdjust="spacingAndGlyphs">S1</text>
<text transform="translate(226.8,1926.6) rotate(-90)" textLength="20" lengthAdjust="spacingAndGlyphs">R1</text>
<text transform="translate(192.3,1545.5) rotate(-90)" textLength="127" lengthAdjust="spacingAndGlyphs">Ⅱ路交流输入</text>
<text transform="translate(192.3,1877.5) rotate(-90)" textLength="125" lengthAdjust="spacingAndGlyphs">Ⅰ路交流输入</text>
<!-- load labels -->
<text transform="translate(1357.4,1492) rotate(-90)" textLength="22" lengthAdjust="spacingAndGlyphs">N4</text>
<text transform="translate(1357.4,1527) rotate(-90)" textLength="22" lengthAdjust="spacingAndGlyphs">T4</text>
<text transform="translate(1357.4,1562) rotate(-90)" textLength="20" lengthAdjust="spacingAndGlyphs">S4</text>
<text transform="translate(1357.4,1595) rotate(-90)" textLength="25" lengthAdjust="spacingAndGlyphs">R4</text>
<text transform="translate(1357.4,1823) rotate(-90)" textLength="26" lengthAdjust="spacingAndGlyphs">N3</text>
<text transform="translate(1357.4,1860) rotate(-90)" textLength="21" lengthAdjust="spacingAndGlyphs">T3</text>
<text transform="translate(1357.4,1895) rotate(-90)" textLength="19" lengthAdjust="spacingAndGlyphs">S3</text>
<text transform="translate(1357.4,1928) rotate(-90)" textLength="23" lengthAdjust="spacingAndGlyphs">R3</text>
<text transform="translate(1392.5,1533.5) rotate(-90)" textLength="53" lengthAdjust="spacingAndGlyphs">负载2</text>
<text transform="translate(1393.5,1878) rotate(-90)" textLength="50" lengthAdjust="spacingAndGlyphs">负载1</text>
</g>

<!-- switch labels -->
<g font-size="20">
<text x="892.7" y="1627" textLength="28" lengthAdjust="spacingAndGlyphs">Q2</text>
<text x="1045.7" y="1733" textLength="28" lengthAdjust="spacingAndGlyphs">Q3</text>
<text x="898" y="1958" textLength="25" lengthAdjust="spacingAndGlyphs">Q1</text>
</g>
</svg>
</body></html>
